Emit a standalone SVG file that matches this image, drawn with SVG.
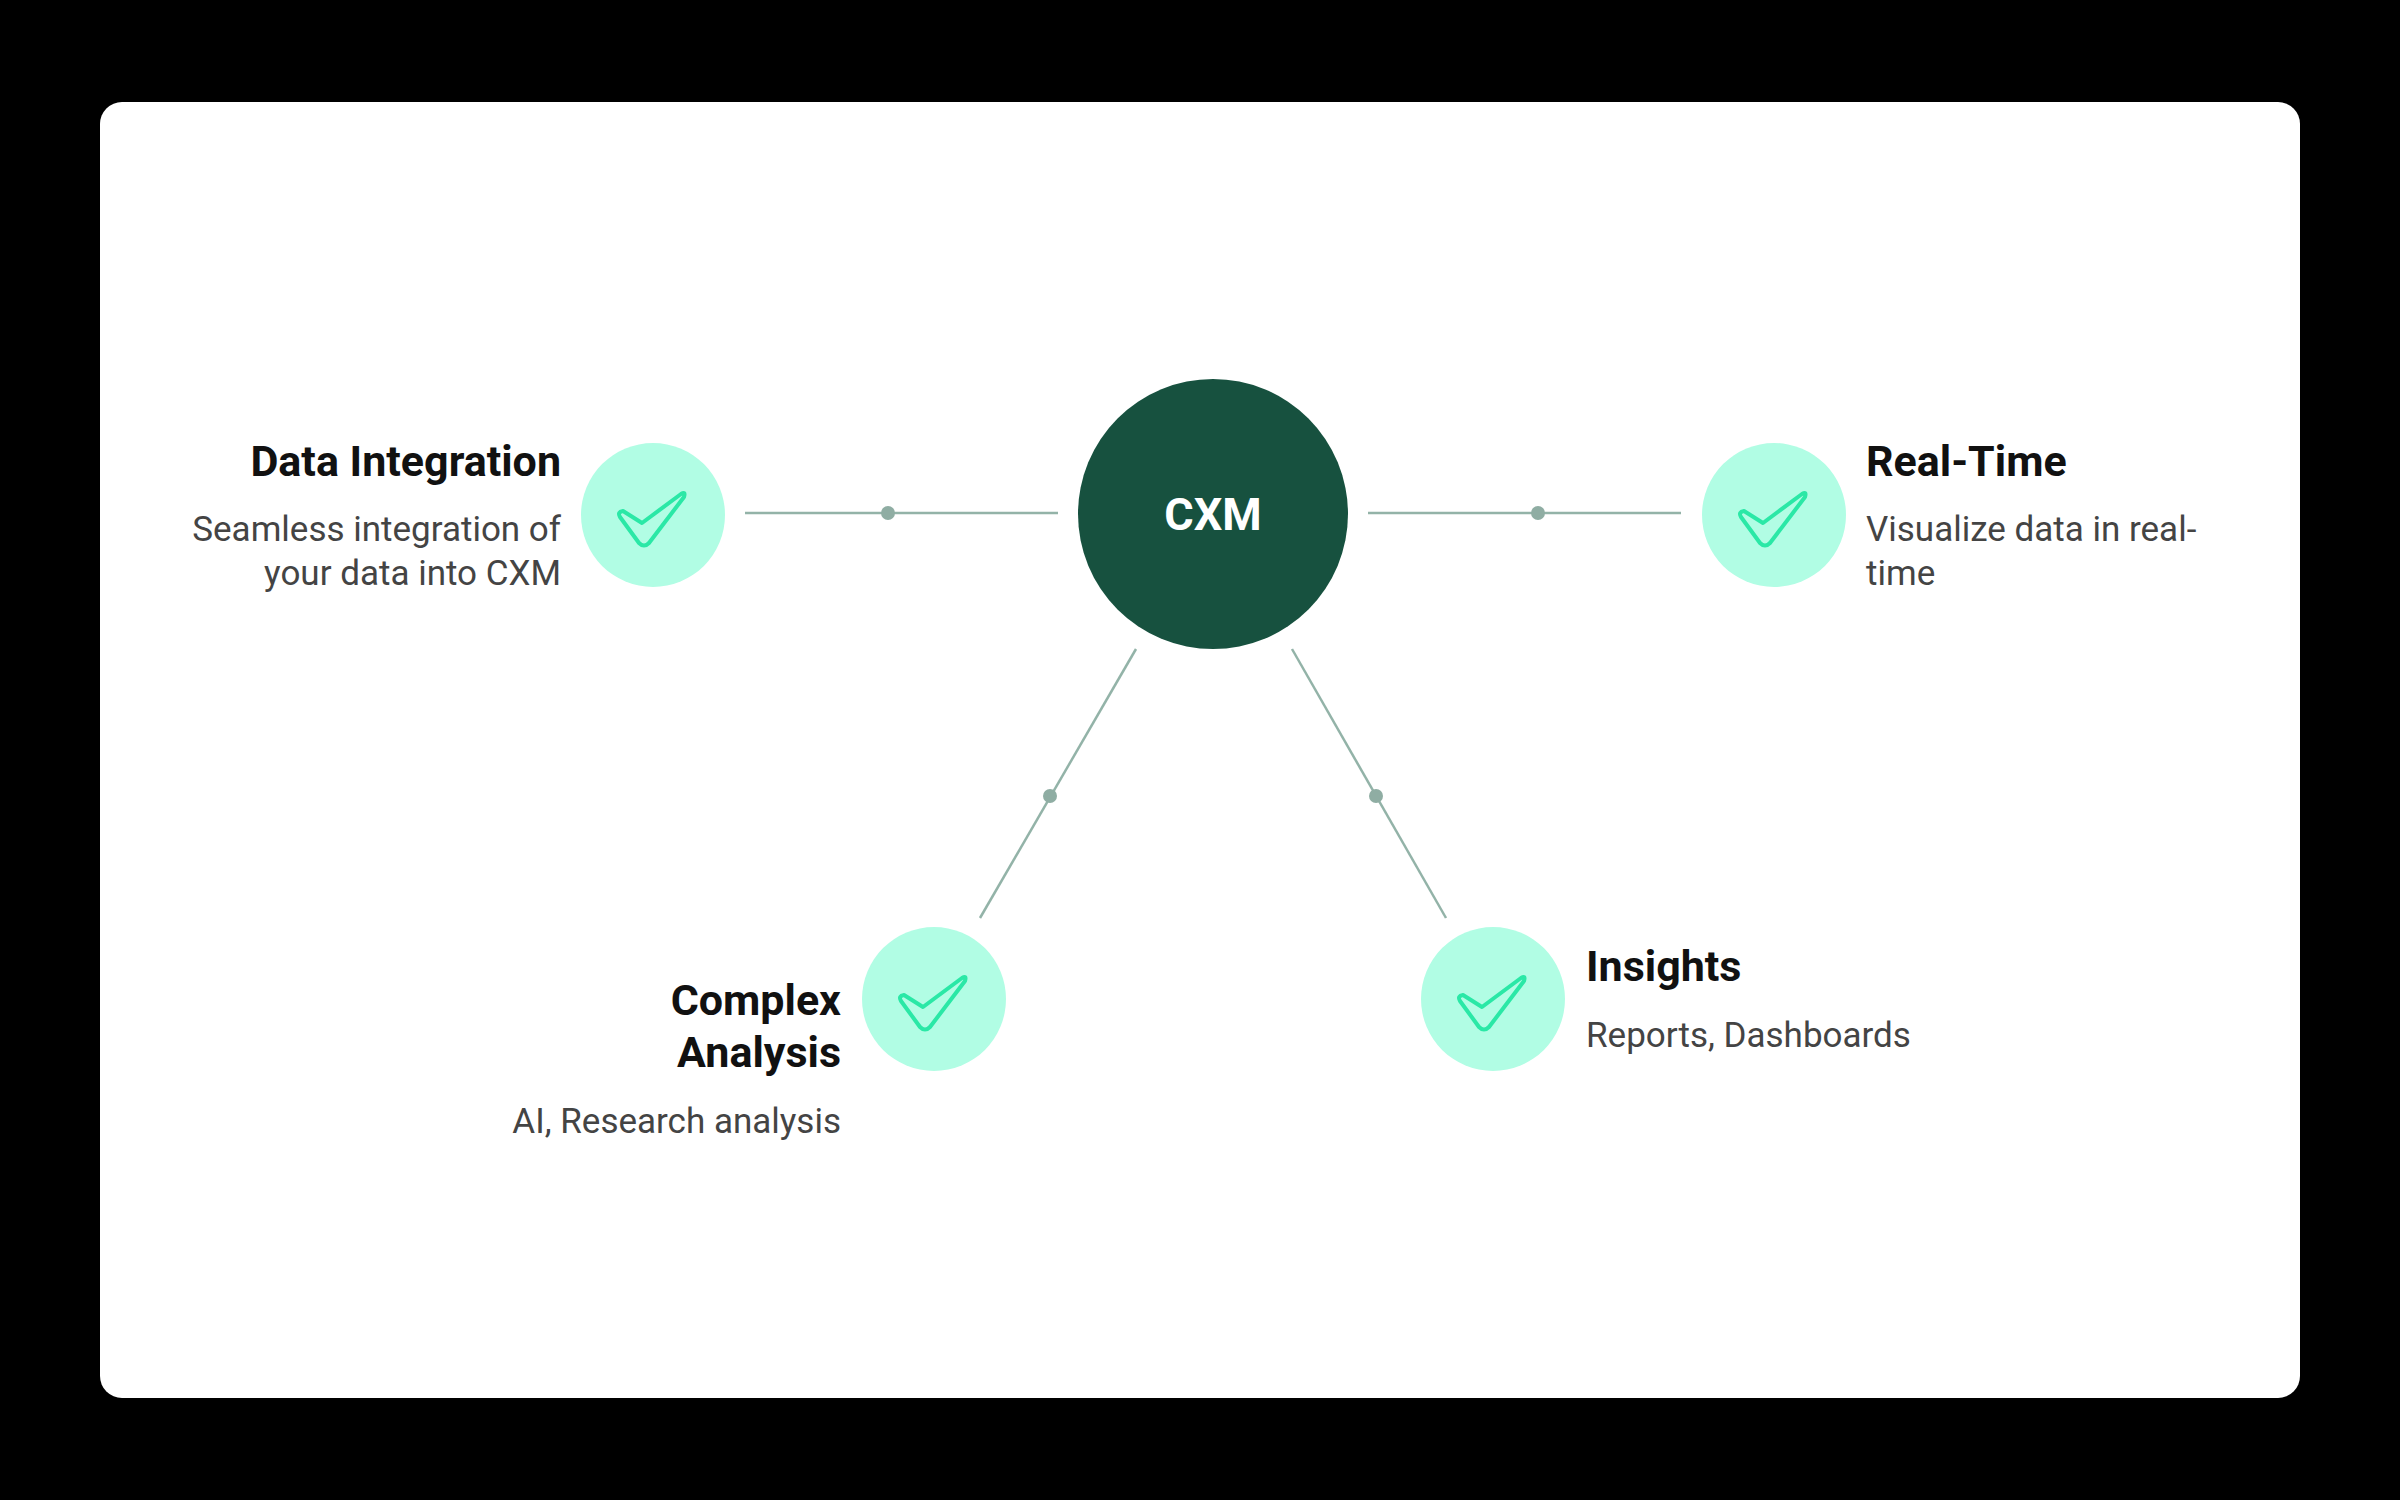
<svg xmlns="http://www.w3.org/2000/svg" width="2400" height="1500" viewBox="0 0 2400 1500">
<defs>
<style>
.t{font-family:Roboto,"Liberation Sans",sans-serif;font-weight:700;font-size:43px;fill:#111}
.d{font-family:Roboto,"Liberation Sans",sans-serif;font-size:35px;fill:#444}
.ln{stroke:#93b3a8;stroke-width:2.5;fill:none}
.dot{fill:#8fada3}
.nc{fill:#b1fde4}
.ck{fill:none;stroke:#2ae8a6;stroke-width:4;stroke-linejoin:round}
</style>
<g id="check"><path class="ck" d="M-33,2 Q-36,-3 -30,-4 L-11,8 L28,-21 Q33,-24 31,-18 L-4,28 Q-9,33 -14,28 Z"/></g>
</defs>
<rect width="2400" height="1500" fill="#000"/>
<rect x="100" y="102" width="2200" height="1296" rx="22" fill="#fff"/>
<g id="connectors">
<line class="ln" x1="745" y1="513" x2="1058" y2="513"/><circle class="dot" cx="888" cy="513" r="7"/>
<line class="ln" x1="1368" y1="513" x2="1681" y2="513"/><circle class="dot" cx="1538" cy="513" r="7"/>
<line class="ln" x1="1136" y1="649" x2="980" y2="918"/><circle class="dot" cx="1050" cy="796" r="7"/>
<line class="ln" x1="1292" y1="649" x2="1446" y2="918"/><circle class="dot" cx="1376" cy="796" r="7"/>
</g>
<g id="cxm"><circle cx="1213" cy="514" r="135" fill="#17513f"/>
<text x="1213" y="530" text-anchor="middle" font-family="Roboto,'Liberation Sans',sans-serif" font-weight="700" font-size="45" fill="#fff">CXM</text></g>
<g id="data-integration"><circle class="nc" cx="653" cy="515" r="72"/><use href="#check" x="653" y="515"/>
<text class="t" x="561" y="476" text-anchor="end">Data Integration</text>
<text class="d" x="561" y="541" text-anchor="end">Seamless integration of</text>
<text class="d" x="561" y="585" text-anchor="end">your data into CXM</text></g>
<g id="real-time"><circle class="nc" cx="1774" cy="515" r="72"/><use href="#check" x="1774" y="515"/>
<text class="t" x="1866" y="476">Real-Time</text>
<text class="d" x="1866" y="541">Visualize data in real-</text>
<text class="d" x="1866" y="585">time</text></g>
<g id="complex-analysis"><circle class="nc" cx="934" cy="999" r="72"/><use href="#check" x="934" y="999"/>
<text class="t" x="841" y="1015" text-anchor="end">Complex</text>
<text class="t" x="841" y="1067" text-anchor="end">Analysis</text>
<text class="d" x="841" y="1133" text-anchor="end">AI, Research analysis</text></g>
<g id="insights"><circle class="nc" cx="1493" cy="999" r="72"/><use href="#check" x="1493" y="999"/>
<text class="t" x="1586" y="981">Insights</text>
<text class="d" x="1586" y="1047">Reports, Dashboards</text></g>
</svg>
